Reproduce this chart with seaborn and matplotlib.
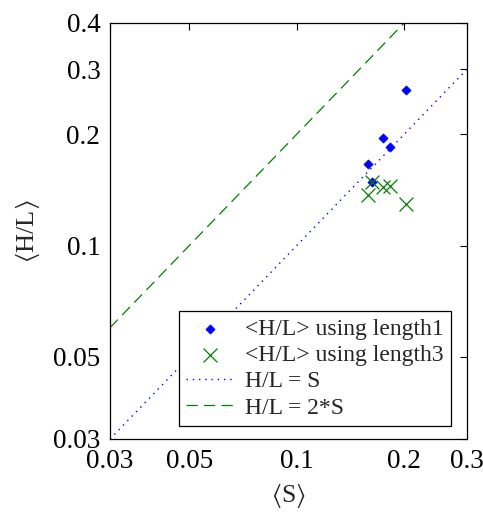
import numpy as np
import pandas as pd
import matplotlib
matplotlib.use("Agg")
import matplotlib.pyplot as plt
import seaborn as sns
from matplotlib.ticker import FixedLocator, NullLocator, FixedFormatter

# Data
s_len1 = [0.202, 0.175, 0.183, 0.158, 0.163]
hl_len1 = [0.263, 0.196, 0.185, 0.166, 0.149]
s_len3 = [0.163, 0.158, 0.174, 0.182, 0.203]
hl_len3 = [0.149, 0.137, 0.144, 0.145, 0.130]
line_s = [0.03, 0.3]
line2_s = [0.03, 0.2]
x_ticks = [0.03, 0.05, 0.1, 0.2, 0.3]
x_ticklabels = ["0.03", "0.05", "0.1", "0.2", "0.3"]
y_ticks = [0.03, 0.05, 0.1, 0.2, 0.3, 0.4]
y_ticklabels = ["0.03", "0.05", "0.1", "0.2", "0.3", "0.4"]

sns.set_style("white")
plt.rcParams["font.family"] = ["Liberation Serif", "DejaVu Serif"]
plt.rcParams["mathtext.fontset"] = "stix"

fig = plt.figure(figsize=(4.83, 5.13), dpi=100)
ax = fig.add_axes([110/483, 1 - 439/513, (467-110)/483, (439-23)/513])

df1 = pd.DataFrame({"S": s_len1, "HL": hl_len1})
df3 = pd.DataFrame({"S": s_len3, "HL": hl_len3})
dfl = pd.DataFrame({"S": line_s, "HL": line_s})
dfl2 = pd.DataFrame({"S": line2_s, "HL": [2 * v for v in line2_s]})

sns.scatterplot(data=df1, x="S", y="HL", ax=ax, marker="D", s=22, color=(0, 0, 1),
                edgecolor=(0, 0, 1), linewidth=0.5, label="<H/L> using length1", zorder=3)
sns.scatterplot(data=df3, x="S", y="HL", ax=ax, marker="x", s=100, color=(0, 0.5, 0),
                linewidth=0.9, label="<H/L> using length3", zorder=3)
sns.lineplot(data=dfl, x="S", y="HL", ax=ax, color=(0, 0, 1), linestyle=(0, (1, 3.5)),
             linewidth=1.0, label="H/L = S")
sns.lineplot(data=dfl2, x="S", y="HL", ax=ax, color=(0, 0.5, 0), linestyle=(0, (9, 5)),
             linewidth=0.9, label="H/L = 2*S")

ax.set_xscale("log")
ax.set_yscale("log")
ax.set_xlim(0.03, 0.3)
ax.set_ylim(0.03, 0.4)
ax.xaxis.set_major_locator(FixedLocator(x_ticks))
ax.xaxis.set_major_formatter(FixedFormatter(x_ticklabels))
ax.xaxis.set_minor_locator(NullLocator())
ax.yaxis.set_major_locator(FixedLocator(y_ticks))
ax.yaxis.set_major_formatter(FixedFormatter(y_ticklabels))
ax.yaxis.set_minor_locator(NullLocator())
ax.tick_params(which="major", direction="in", length=5, width=0.8, top=True, right=True,
               labelsize=19.5, colors="black")
ax.tick_params(axis="x", pad=7)
ax.tick_params(axis="y", pad=7)
for sp in ax.spines.values():
    sp.set_color("black")
    sp.set_linewidth(0.9)

ax.set_xlabel(r"$\langle$S$\rangle$", fontsize=18.5, labelpad=5)
ax.set_ylabel(r"$\langle$H/L$\rangle$", fontsize=19, labelpad=8)

leg = ax.legend(loc="lower right", bbox_to_anchor=(0.955, 0.032), fontsize=17, frameon=True,
                fancybox=False, edgecolor="black", framealpha=1, borderpad=0.3,
                labelspacing=0.2, handlelength=2.0, handletextpad=0.5, borderaxespad=0.0)
leg.get_frame().set_linewidth(0.9)

fig.savefig("out.png", dpi=100)
